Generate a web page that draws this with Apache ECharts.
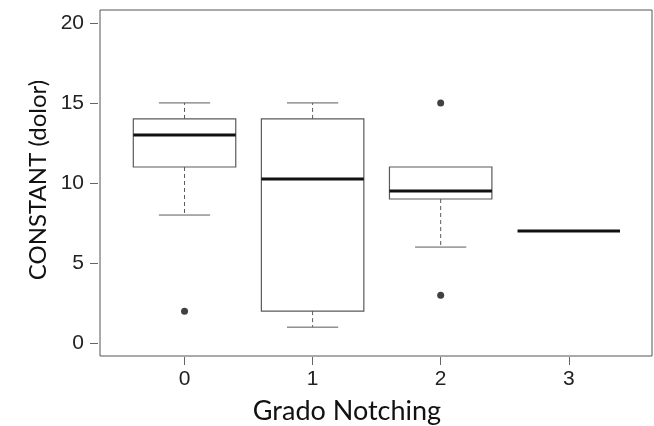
<!DOCTYPE html>
<html>
<head>
<meta charset="utf-8">
<script src="https://cdn.jsdelivr.net/npm/echarts@6/dist/echarts.min.js"></script>
<style>html,body{margin:0;padding:0;background:#fff}#c{width:654px;height:426px}</style>
</head>
<body>
<div id="c"></div>
<script>
var categories = ['0', '1', '2', '3'];
var lowerWhisker = [8, 1, 6, 7];
var q1 = [11, 2, 9, 7];
var median = [13, 10.25, 9.5, 7];
var q3 = [14, 14, 11, 7];
var upperWhisker = [15, 15, 11, 7];
var outlierCategory = [0, 2, 2];
var outlierValue = [2, 15, 3];
var yTicks = [0, 5, 10, 15, 20];
var xTicks = [0, 1, 2, 3];

var boxData = categories.map(function (c, i) {
  return [i, lowerWhisker[i], q1[i], median[i], q3[i], upperWhisker[i]];
});
var outlierData = outlierCategory.map(function (c, i) { return [c, outlierValue[i]]; });

var chart = echarts.init(document.getElementById('c'), null, {renderer: 'canvas'});
var lineColor = '#5a5a5a';
chart.setOption({
  backgroundColor: '#fff',
  animation: false,
  grid: {left: 100, right: 2, top: 10, bottom: 70, show: true, borderColor: '#555', borderWidth: 1, backgroundColor: 'transparent'},
  xAxis: {
    type: 'value', min: -0.66, max: 3.65,
    splitLine: {show: false},
    axisLine: {show: false, onZero: false},
    offset: 1,
    axisTick: {show: true, length: 8, customValues: xTicks, lineStyle: {color: '#666'}},
    axisLabel: {customValues: xTicks, margin: 12, fontFamily: 'Liberation Sans', fontSize: 21, color: '#222',
      formatter: function (v) { return categories[Math.round(v)]; }}
  },
  yAxis: {
    type: 'value', min: -0.8, max: 20.8,
    splitLine: {show: false},
    axisLine: {show: false, onZero: false},
    offset: 2,
    axisTick: {show: true, length: 8, customValues: yTicks, lineStyle: {color: '#666'}},
    axisLabel: {customValues: yTicks, margin: 14, fontFamily: 'Liberation Sans', fontSize: 21, color: '#222'}
  },
  graphic: [
    {type: 'text', x: 38, y: 180, rotation: Math.PI / 2,
      style: {text: 'CONSTANT (dolor)', font: '24px Lato', fill: '#111', align: 'center', verticalAlign: 'middle'}},
    {type: 'text', x: 347, y: 411,
      style: {text: 'Grado Notching', font: '27px Lato', fill: '#111', align: 'center', verticalAlign: 'middle'}}
  ],
  series: [
    {
      type: 'custom',
      data: boxData,
      encode: {x: 0, y: [1, 2, 3, 4, 5]},
      renderItem: function (params, api) {
        var x = api.value(0);
        var lo = api.value(1), a = api.value(2), m = api.value(3), b = api.value(4), hi = api.value(5);
        var halfBox = api.size([0.4, 0])[0];
        var halfCap = api.size([0.2, 0])[0];
        var pLo = api.coord([x, lo]), pA = api.coord([x, a]), pM = api.coord([x, m]), pB = api.coord([x, b]), pHi = api.coord([x, hi]);
        var cx = pM[0];
        var children = [];
        var dash = {stroke: lineColor, lineWidth: 1, lineDash: [4, 3]};
        var solid = {stroke: lineColor, lineWidth: 1};
        if (hi > b) {
          children.push({type: 'line', shape: {x1: cx, y1: pB[1], x2: cx, y2: pHi[1]}, style: dash});
          children.push({type: 'line', shape: {x1: cx - halfCap, y1: pHi[1], x2: cx + halfCap, y2: pHi[1]}, style: solid});
        }
        if (lo < a) {
          children.push({type: 'line', shape: {x1: cx, y1: pA[1], x2: cx, y2: pLo[1]}, style: dash});
          children.push({type: 'line', shape: {x1: cx - halfCap, y1: pLo[1], x2: cx + halfCap, y2: pLo[1]}, style: solid});
        }
        if (b > a) {
          children.push({type: 'rect', shape: {x: cx - halfBox, y: pB[1], width: 2 * halfBox, height: pA[1] - pB[1]},
            style: {fill: 'none', stroke: lineColor, lineWidth: 1.2}});
        }
        children.push({type: 'line', shape: {x1: cx - halfBox, y1: pM[1], x2: cx + halfBox, y2: pM[1]},
          style: {stroke: '#111', lineWidth: 3}});
        return {type: 'group', children: children};
      }
    },
    {
      type: 'scatter',
      data: outlierData,
      symbol: 'circle',
      symbolSize: 7,
      itemStyle: {color: '#111'}
    }
  ]
});
</script>
</body>
</html>
